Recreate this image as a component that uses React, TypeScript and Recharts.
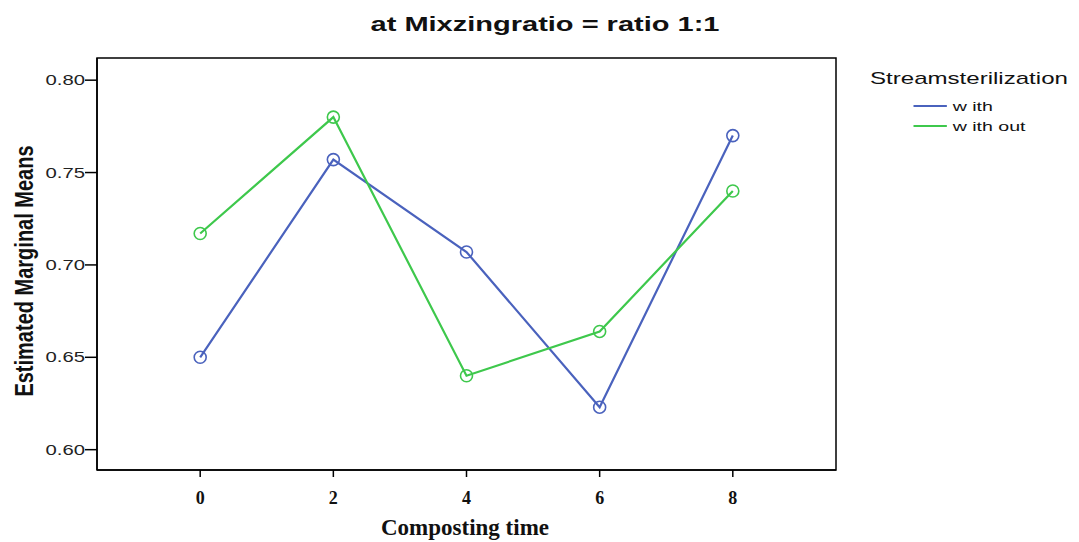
import { LineChart, Line, XAxis, YAxis, ReferenceArea } from 'recharts';

const TIMES = [0, 2, 4, 6, 8];
const WITH = [0.650, 0.757, 0.707, 0.623, 0.770];
const WITHOUT = [0.717, 0.780, 0.640, 0.664, 0.740];
const Y_TICKS = [0.6, 0.65, 0.7, 0.75, 0.8];

const SERIES = [
  { key: 'with', label: 'w ith', color: '#4a62bd' },
  { key: 'without', label: 'w ith out', color: '#3ec84c' },
];

const data = TIMES.map((t, i) => ({ time: t, with: WITH[i], without: WITHOUT[i] }));

const X_DOMAIN = [-1.55, 9.55];
const Y_DOMAIN = [0.589, 0.812];

const sans = 'Arial, "Liberation Sans", sans-serif';
const serif = '"Times New Roman", "Liberation Serif", serif';
// the source picture's sans text is stretched sideways
const STRETCH = 1.45;

function YTick({ x, y, payload }: any) {
  return (
    <text
      x={x} y={y} dy={5} textAnchor="end" fill="#222" fontFamily={sans} fontSize={14}
      transform={`translate(${x},0) scale(${STRETCH},1) translate(${-x},0)`}
    >
      {Number(payload.value).toFixed(2)}
    </text>
  );
}

export default function App() {
  return (
    <div style={{ position: 'absolute', left: 0, top: 0, width: 1079, height: 542, background: '#fff' }}>
      <div style={{ position: 'absolute', left: 545, top: 24, transform: `translate(-50%, -50%) scaleX(${STRETCH})`, whiteSpace: 'nowrap', fontFamily: sans, fontWeight: 'bold', fontSize: 20, color: '#111' }}>
        at Mixzingratio = ratio 1:1
      </div>
      <div style={{
        position: 'absolute', left: 25, top: 271, transform: `translate(-50%, -50%) rotate(-90deg) scaleY(1.3)`, whiteSpace: 'nowrap',
        fontFamily: sans, fontWeight: 'bold', fontSize: 20, color: '#111',
      }}>
        Estimated Marginal Means
      </div>
      <div style={{ position: 'absolute', left: 465, top: 528, transform: 'translate(-50%, -50%)', whiteSpace: 'nowrap', fontFamily: serif, fontWeight: 'bold', fontSize: 23, color: '#111' }}>
        Composting time
      </div>
      {/* legend */}
      <div style={{ position: 'absolute', left: 870, top: 69, fontFamily: sans, color: '#111', transformOrigin: '0 0', transform: `scaleX(${STRETCH})` }}>
        <div style={{ fontSize: 16.6, height: 27 }}>Streamsterilization</div>
        {SERIES.map(s => (
          <div key={s.key} style={{ display: 'flex', alignItems: 'center', marginLeft: 29.5, height: 20, fontSize: 13.5 }}>
            <span style={{ display: 'inline-block', width: 23.5, height: 2.5, background: s.color, marginRight: 4 }} />
            <span>{s.label}</span>
          </div>
        ))}
      </div>
      <LineChart width={1079} height={542} data={data} margin={{ top: 58, right: 243, left: 37, bottom: 42 }}>
        <XAxis
          dataKey="time" type="number" domain={X_DOMAIN} ticks={TIMES} allowDataOverflow
          axisLine={{ stroke: '#000', strokeWidth: 1.5 }} tickLine={{ stroke: '#000', strokeWidth: 1.5 }}
          tickSize={7} tickMargin={14} height={30}
          tick={{ fill: '#111', fontFamily: serif, fontWeight: 'bold', fontSize: 18 }}
        />
        <YAxis
          type="number" domain={Y_DOMAIN} ticks={Y_TICKS} allowDataOverflow
          axisLine={{ stroke: '#000', strokeWidth: 1.5 }} tickLine={{ stroke: '#000', strokeWidth: 1.5 }}
          tickSize={12} tickMargin={0} width={60}
          tick={<YTick />}
        />
        <ReferenceArea x1={X_DOMAIN[0]} x2={X_DOMAIN[1]} y1={Y_DOMAIN[0]} y2={Y_DOMAIN[1]} fill="none" fillOpacity={0} stroke="#000" strokeWidth={1.5} ifOverflow="visible" />
        {SERIES.map(s => (
          <Line
            key={s.key} dataKey={s.key} stroke={s.color} strokeWidth={2.2} isAnimationActive={false}
            dot={{ r: 6, stroke: s.color, strokeWidth: 1.6, fill: 'none' }} activeDot={false}
          />
        ))}
      </LineChart>
    </div>
  );
}
